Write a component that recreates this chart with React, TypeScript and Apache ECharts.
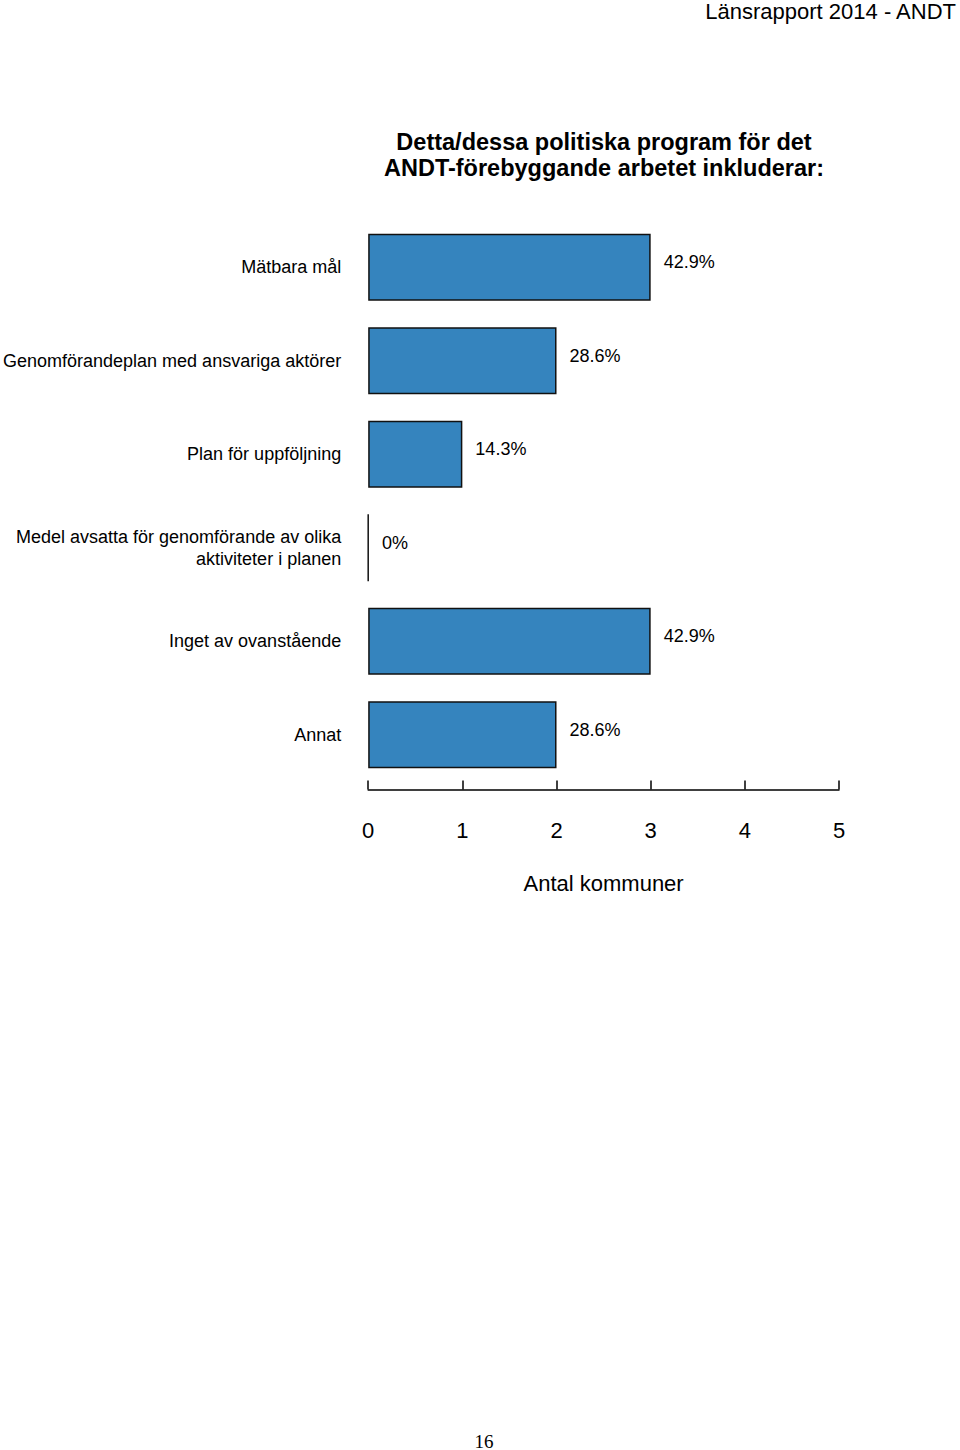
import React, { useEffect, useRef } from "react";
import * as echarts from "echarts";

const categories = [
  "Mätbara mål",
  "Genomförandeplan med ansvariga aktörer",
  "Plan för uppföljning",
  "Medel avsatta för genomförande av olika\naktiviteter i planen",
  "Inget av ovanstående",
  "Annat",
];
const counts = [3, 2, 1, 0, 3, 2];
const percentLabels = ["42.9%", "28.6%", "14.3%", "0%", "42.9%", "28.6%"];
const titleLines = ["Detta/dessa politiska program för det", "ANDT-förebyggande arbetet inkluderar:"];
const axisName = "Antal kommuner";
const headerText = "Länsrapport 2014 - ANDT";
const pageNumber = "16";

const FONT = "'Liberation Sans', Arial, sans-serif";

export default function App() {
  const ref = useRef<HTMLDivElement>(null);
  useEffect(() => {
    if (!ref.current) return;
    const chart = echarts.init(ref.current, undefined, { renderer: "svg" });
    chart.setOption({
      animation: false,
      backgroundColor: "#ffffff",
      graphic: [
        {
          type: "text",
          x: 956,
          y: 11,
          style: {
            text: headerText,
            fontFamily: FONT,
            fontSize: 22,
            fill: "#000",
            align: "right",
            verticalAlign: "middle",
          },
        },
        {
          type: "text",
          x: 604,
          y: 142,
          style: {
            text: titleLines[0],
            fontFamily: FONT,
            fontSize: 23.5,
            fontWeight: "bold",
            fill: "#000",
            align: "center",
            verticalAlign: "middle",
          },
        },
        {
          type: "text",
          x: 604,
          y: 168,
          style: {
            text: titleLines[1],
            fontFamily: FONT,
            fontSize: 23.5,
            fontWeight: "bold",
            fill: "#000",
            align: "center",
            verticalAlign: "middle",
          },
        },
        {
          type: "text",
          x: 484,
          y: 1441,
          style: {
            text: pageNumber,
            fontFamily: "'Liberation Serif', serif",
            fontSize: 19,
            fill: "#000",
            align: "center",
            verticalAlign: "middle",
          },
        },
      ],
      grid: { left: 368, right: 121, top: 220.5, height: 561, containLabel: false },
      xAxis: {
        type: "value",
        min: 0,
        max: 5,
        interval: 1,
        offset: 8,
        axisLine: { show: true, lineStyle: { color: "#000", width: 1.5 } },
        axisTick: { show: true, inside: true, length: 9, lineStyle: { color: "#000", width: 1.5 } },
        splitLine: { show: false },
        axisLabel: { margin: 30, fontFamily: FONT, fontSize: 22, color: "#000" },
        name: axisName,
        nameLocation: "middle",
        nameGap: 83,
        nameTextStyle: { fontFamily: FONT, fontSize: 22, color: "#000" },
      },
      yAxis: {
        type: "category",
        inverse: true,
        data: categories,
        axisLine: { show: false },
        axisTick: { show: false },
        axisLabel: {
          margin: 27,
          fontFamily: FONT,
          fontSize: 18,
          color: "#000",
          lineHeight: 22,
          align: "right",
        },
      },
      series: [
        {
          type: "bar",
          data: counts,
          barWidth: 67,
          itemStyle: { color: "#3584BE", borderColor: "#111", borderWidth: 1.5 },
          label: {
            show: true,
            position: "right",
            distance: 13,
            offset: [0, -5],
            fontFamily: FONT,
            fontSize: 18,
            color: "#000",
            formatter: (p: any) => percentLabels[p.dataIndex],
          },
        },
      ],
    });
    return () => chart.dispose();
  }, []);
  return (
    <div
      ref={ref}
      style={{ position: "absolute", left: 0, top: 0, width: 960, height: 1450 }}
    />
  );
}
